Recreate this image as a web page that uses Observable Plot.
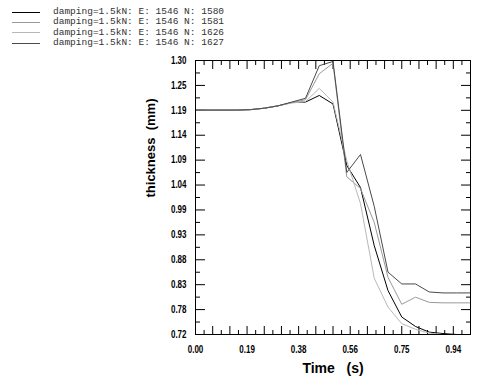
<!DOCTYPE html>
<html><head><meta charset="utf-8">
<script src="https://cdn.jsdelivr.net/npm/d3@7"></script>
<script src="https://cdn.jsdelivr.net/npm/@observablehq/plot@0.6"></script>
<style>
body{margin:0;background:#fff;}
#wrap{position:relative;width:500px;height:385px;overflow:hidden;}
#legend{position:absolute;left:0;top:7px;font-family:"Liberation Mono","Courier New",monospace;font-size:9.5px;color:#333;}
#legend .row{height:10.4px;line-height:10.4px;display:flex;align-items:center;white-space:pre;}
#legend .sw{display:inline-block;width:28px;height:0;margin-left:12px;margin-right:13px;}
</style></head>
<body><div id="wrap"><div id="legend"></div></div>
<script>
// ---- data ----
const time = [0,0.05,0.10,0.15,0.20,0.25,0.30,0.35,0.40,0.45,0.50,0.55,0.60,0.65,0.70,0.75,0.80,0.85,0.90,0.95,1.00];
const seriesNames = [
  "damping=1.5kN: E: 1546 N: 1580",
  "damping=1.5kN: E: 1546 N: 1581",
  "damping=1.5kN: E: 1546 N: 1626",
  "damping=1.5kN: E: 1546 N: 1627"
];
const seriesColors = ["#000000", "#9a9a9a", "#b8b8b8", "#4a4a4a"];
const n1580 = [1.195,1.195,1.195,1.195,1.196,1.199,1.204,1.211,1.212,1.226,1.208,1.078,1.031,0.908,0.813,0.757,0.737,0.725,0.722,0.720,0.720];
const n1581 = [1.195,1.195,1.195,1.195,1.196,1.199,1.204,1.211,1.217,1.272,1.294,1.054,1.029,0.957,0.841,0.784,0.799,0.788,0.787,0.787,0.787];
const n1626 = [1.195,1.195,1.195,1.195,1.196,1.199,1.204,1.210,1.213,1.241,1.212,1.088,0.997,0.839,0.778,0.743,0.731,0.723,0.720,0.720,0.720];
const n1627 = [1.195,1.195,1.195,1.195,1.196,1.199,1.204,1.212,1.220,1.289,1.298,1.063,1.101,0.991,0.852,0.827,0.827,0.810,0.808,0.808,0.808];
const yTickLabels = ["0.72","0.78","0.83","0.88","0.93","0.99","1.04","1.09","1.14","1.19","1.25","1.30"];
const xTickLabels = ["0.00","0.19","0.38","0.56","0.75","0.94"];
const xLabel = "Time\u00a0\u00a0\u00a0(s)";
const yLabel = "thickness\u00a0\u00a0(mm)";

// ---- derived ----
const allSeries = [n1580, n1581, n1626, n1627];
const rows = [];
allSeries.forEach((vals, s) => vals.forEach((v, i) => rows.push({t: time[i], v, s: seriesNames[s]})));
const yMin = 0.72, yMax = 1.30;
const yMajor = yTickLabels.map((_, i) => yMin + i * (yMax - yMin) / (yTickLabels.length - 1));
const yMinor = yMajor.slice(1).map((v, i) => (v + yMajor[i]) / 2);
const yFmt = new Map(yMajor.map((v, i) => [v, yTickLabels[i]]));
const xMajor = xTickLabels.map((_, i) => i * 0.1875);
const xFmt = new Map(xMajor.map((v, i) => [v, xTickLabels[i]]));
const xLong = d3.range(0, 17).map(i => i / 16);
const xShort = d3.range(0, 16).map(i => (2 * i + 1) / 32);
const blank = () => "";

const chart = Plot.plot({
  width: 500, height: 385,
  marginLeft: 195, marginRight: 30, marginTop: 60, marginBottom: 51,
  style: {fontFamily: "'Liberation Sans Narrow','Arial Narrow','Liberation Sans',sans-serif", fontSize: "10px", fontWeight: "bold", background: "transparent", color: "#000"},
  x: {domain: [0, 1]},
  y: {domain: [yMin, yMax]},
  color: {domain: seriesNames, range: seriesColors},
  marks: [
    Plot.axisY(yMajor, {anchor: "left", tickSize: -10, tickFormat: blank, label: null}),
    Plot.axisY(yMinor, {anchor: "left", tickSize: -5, tickFormat: blank, label: null}),
    Plot.axisY(yMajor, {anchor: "right", tickSize: -10, tickFormat: blank, label: null}),
    Plot.axisY(yMinor, {anchor: "right", tickSize: -5, tickFormat: blank, label: null}),
    Plot.axisX(xLong, {anchor: "bottom", tickSize: -8, tickFormat: blank, label: null}),
    Plot.axisX(xShort, {anchor: "bottom", tickSize: -4, tickFormat: blank, label: null}),
    Plot.axisX(xLong, {anchor: "top", tickSize: -8, tickFormat: blank, label: null}),
    Plot.axisX(xShort, {anchor: "top", tickSize: -4, tickFormat: blank, label: null}),
    Plot.axisY(yMajor, {anchor: "left", tickSize: 0, tickPadding: 9, tickFormat: d => yFmt.get(d), label: null}),
    Plot.axisX(xMajor, {anchor: "bottom", tickSize: 0, tickPadding: 11, tickFormat: d => xFmt.get(d), label: null}),
    Plot.lineY(rows, {x: "t", y: "v", z: "s", stroke: "s", strokeWidth: 1}),
    Plot.frame({stroke: "#000", strokeWidth: 1}),
    Plot.text([yLabel], {frameAnchor: "left", dx: -45, rotate: -90, fontSize: 13, fontFamily: "'Liberation Sans',Arial,sans-serif", fontWeight: "bold"}),
    Plot.text([xLabel], {frameAnchor: "bottom", dy: 38, fontSize: 14, fontFamily: "'Liberation Sans',Arial,sans-serif", fontWeight: "bold"})
  ]
});
// condense tick label glyphs horizontally (narrow font look)
d3.select(chart).selectAll('g[aria-label="y-axis tick label"] text, g[aria-label="x-axis tick label"] text')
  .each(function() {
    const tr = this.getAttribute("transform") || "";
    this.setAttribute("transform", tr + " scale(0.8,1)");
  });
document.getElementById("wrap").appendChild(chart);

const legend = document.getElementById("legend");
seriesNames.forEach((name, i) => {
  const row = document.createElement("div");
  row.className = "row";
  const sw = document.createElement("span");
  sw.className = "sw";
  sw.style.borderTop = "1px solid " + seriesColors[i];
  row.appendChild(sw);
  row.appendChild(document.createTextNode(name));
  legend.appendChild(row);
});
</script>
</body></html>
